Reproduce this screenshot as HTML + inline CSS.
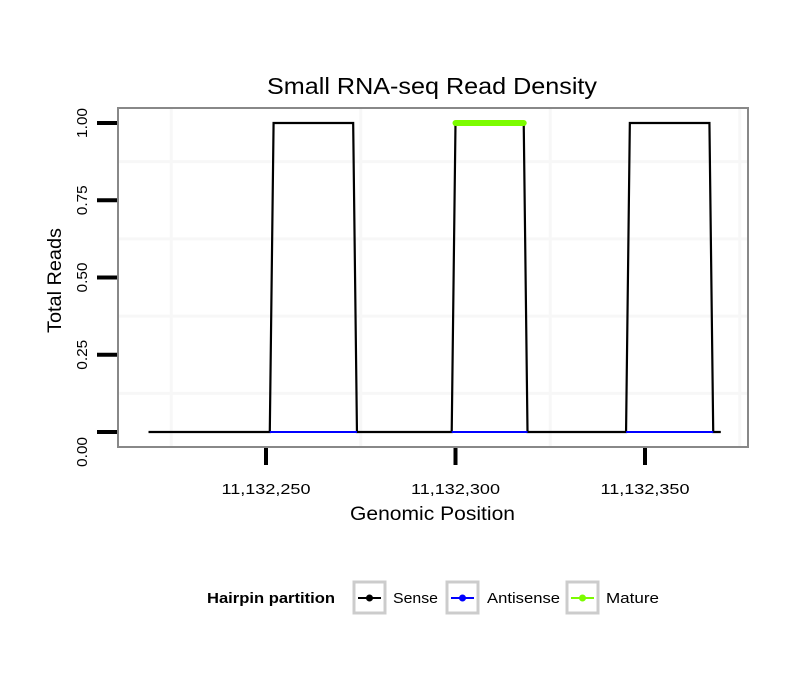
<!DOCTYPE html>
<html><head><meta charset="utf-8"><style>
body{margin:0;background:#fff;}
svg text{font-family:"Liberation Sans",Arial,sans-serif;}
</style></head><body>
<svg id="chart" width="810" height="690" xmlns="http://www.w3.org/2000/svg">
<text x="267" y="94" font-size="23" textLength="330" lengthAdjust="spacingAndGlyphs">Small RNA-seq Read Density</text>
<g id="grid"></g>
<g id="marks"></g>
<rect x="118" y="108" width="630" height="339" fill="none" stroke="#888" stroke-width="2"/>
<g id="axes"></g>
<text x="350" y="520" font-size="19" textLength="165" lengthAdjust="spacingAndGlyphs">Genomic Position</text>
<text transform="translate(61,333) rotate(-90)" font-size="19" textLength="105" lengthAdjust="spacingAndGlyphs">Total Reads</text>
<g>
<text x="207" y="603" font-size="15" font-weight="bold" textLength="128" lengthAdjust="spacingAndGlyphs">Hairpin partition</text>
<g>
<rect x="354" y="582" width="31" height="31" fill="#fff" stroke="#ccc" stroke-width="3"/>
<line x1="358" y1="598" x2="381" y2="598" stroke="#000" stroke-width="2"/><circle cx="369.5" cy="598" r="3.5" fill="#000"/>
<text x="393" y="603" font-size="15" textLength="45" lengthAdjust="spacingAndGlyphs">Sense</text></g>
<g>
<rect x="447" y="582" width="31" height="31" fill="#fff" stroke="#ccc" stroke-width="3"/>
<line x1="451" y1="598" x2="474" y2="598" stroke="#00f" stroke-width="2"/><circle cx="462.5" cy="598" r="3.5" fill="#00f"/>
<text x="487" y="603" font-size="15" textLength="73" lengthAdjust="spacingAndGlyphs">Antisense</text></g>
<g>
<rect x="567" y="582" width="31" height="31" fill="#fff" stroke="#ccc" stroke-width="3"/>
<line x1="571" y1="598" x2="594" y2="598" stroke="#7cfc00" stroke-width="2"/><circle cx="582.5" cy="598" r="3.5" fill="#7cfc00"/>
<text x="606" y="603" font-size="15" textLength="53" lengthAdjust="spacingAndGlyphs">Mature</text></g>
</g>
</svg>
<script>
const xTicks=[11132250,11132300,11132350];
const xTickLabels=["11,132,250","11,132,300","11,132,350"];
const yTicks=[0,0.25,0.5,0.75,1];
const yTickLabels=["0.00","0.25","0.50","0.75","1.00"];
const sensePos=[11132219,11132251,11132252,11132273,11132274,11132299,11132300,11132318,11132319,11132345,11132346,11132367,11132368,11132370];
const senseVal=[0,0,1,1,0,0,1,1,0,0,1,1,0,0];
const antisenseSegments=[[11132251,11132274],[11132299,11132319],[11132345,11132368]];
const antisenseVal=[0,0,0];
const maturePos=[11132300,11132318];
const matureVal=[1,1];
const NS="http://www.w3.org/2000/svg";
function X(p){return 266+(p-11132250)*3.79;}
function Y(v){return 432-v*309;}
function mk(tag,attrs,parent){const e=document.createElementNS(NS,tag);for(const k in attrs)e.setAttribute(k,attrs[k]);parent.appendChild(e);return e;}
const grid=document.getElementById('grid'),marks=document.getElementById('marks'),axes=document.getElementById('axes');
for(let i=-1;i<xTicks.length;i++){
  const p=xTicks[Math.max(i,0)]+(i<0?-25:25);
  let g=mk('line',{x1:X(p),x2:X(p),y1:109,y2:446,stroke:'#f7f7f7','stroke-width':3},grid);
  
  
}
yTicks.forEach((v,i)=>{
  if(i<yTicks.length-1){const m=(v+yTicks[i+1])/2;
    let g2=mk('line',{x1:119,x2:747,y1:Y(m),y2:Y(m),stroke:'#f7f7f7','stroke-width':3},grid);
    
    }
});
let d=sensePos.map((p,i)=>(i?'L':'M')+X(p)+','+Y(senseVal[i])).join(' ');
let s=mk('path',{d:d,fill:'none',stroke:'#000','stroke-width':2.2},marks);


antisenseSegments.forEach((seg,i)=>{
  let a=mk('line',{x1:X(seg[0]),x2:X(seg[1]),y1:Y(antisenseVal[i]),y2:Y(antisenseVal[i]),stroke:'#00f','stroke-width':2},marks);
  
  
});
let m=mk('line',{x1:X(maturePos[0]),x2:X(maturePos[1]),y1:Y(matureVal[0]),y2:Y(matureVal[1]),stroke:'#7cfc00','stroke-width':6,'stroke-linecap':'round'},marks);


xTicks.forEach((p,i)=>{
  let t=mk('line',{x1:X(p),x2:X(p),y1:448,y2:465,stroke:'#000','stroke-width':4},axes);
  
  
  let l=mk('text',{x:X(p)-44.5,y:494,'font-size':14.5,textLength:89,lengthAdjust:'spacingAndGlyphs'},axes);l.textContent=xTickLabels[i];
  
  
});
yTicks.forEach((v,i)=>{
  let t=mk('line',{x1:97,x2:117,y1:Y(v),y2:Y(v),stroke:'#000','stroke-width':4},axes);
  
  
  const cy=Y(v)+(v===0?20:0);
  let l=mk('text',{transform:`translate(87,${cy+15}) rotate(-90)`,'font-size':14.5,textLength:30,lengthAdjust:'spacingAndGlyphs'},axes);l.textContent=yTickLabels[i];
  
  
});
</script>
</body></html>
